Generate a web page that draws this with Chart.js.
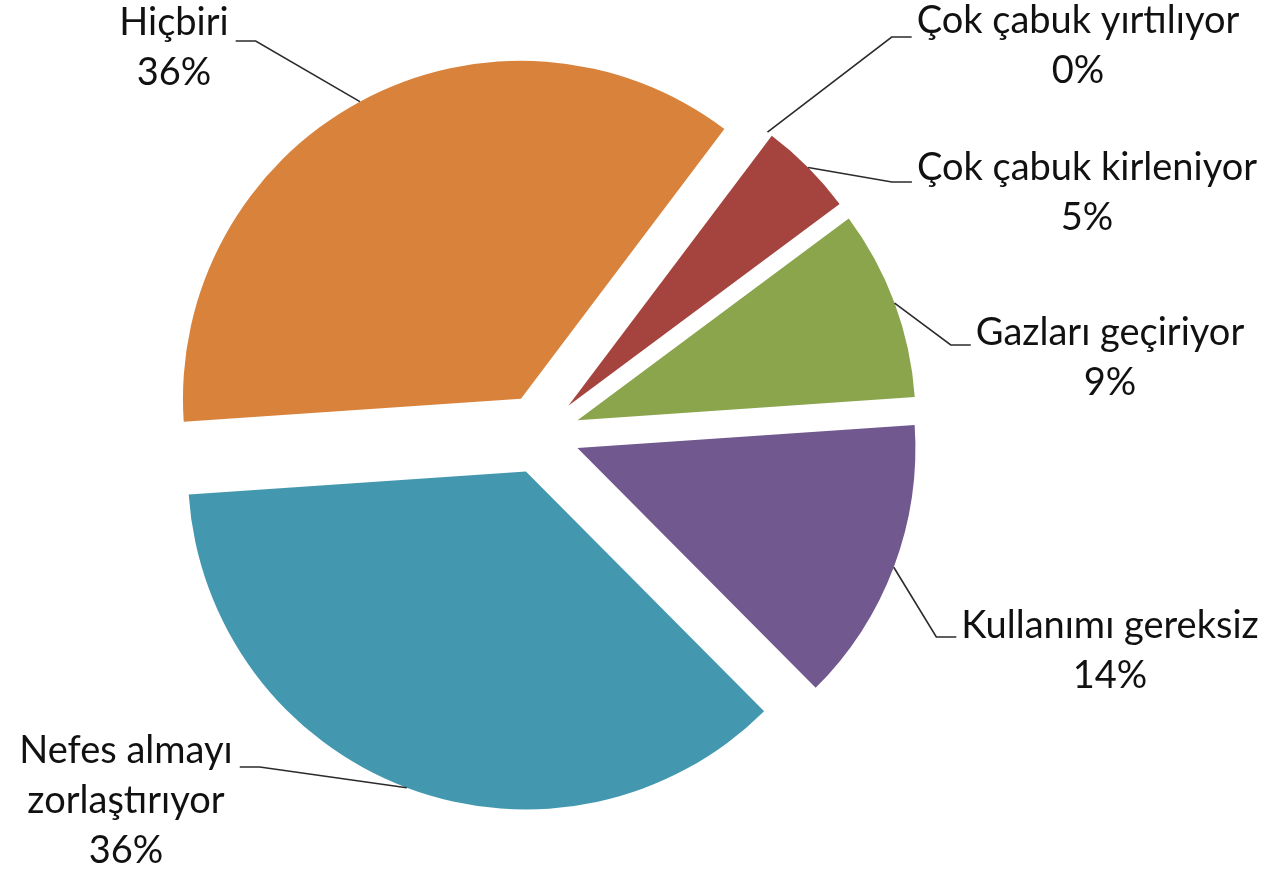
<!DOCTYPE html>
<html>
<head>
<meta charset="utf-8">
<script src="https://cdn.jsdelivr.net/npm/chart.js@4.4.1/dist/chart.umd.min.js"></script>
<style>
  html, body { margin: 0; padding: 0; background: #fff; }
  #wrap { width: 1274px; height: 874px; position: relative; }
</style>
</head>
<body>
<div id="wrap"><canvas id="pieChart"></canvas></div>
<script>
// ── Data ──
const CATEGORIES = [
    "Çok çabuk yırtılıyor",
    "Çok çabuk kirleniyor",
    "Gazları geçiriyor",
    "Kullanımı gereksiz",
    "Nefes almayı zorlaştırıyor",
    "Hiçbiri",
];
// answer counts (slice angles: 0 / 1 / 2 / 3 / 8 / 8 of 22)
const VALUES = [0, 1, 2, 3, 8, 8];

// label text, wrapped the way the original shows it
const LABEL_LINES = [
    ["Çok çabuk yırtılıyor"],
    ["Çok çabuk kirleniyor"],
    ["Gazları geçiriyor"],
    ["Kullanımı gereksiz"],
    ["Nefes almayı", "zorlaştırıyor"],
    ["Hiçbiri"],
];

// ── Styles ──
const COLORS = ["#4F81BD", "#A5443F", "#8AA54C", "#71598F", "#4398AF", "#D9823C"];
const EXPLODE = 40;          // px each slice is pulled out
const FONT = '38px Lato, "Noto Sans", sans-serif';
const LINE_H = 50;

// label placement: centre x of the text block, first baseline, leader side
const LABEL_POS = [
    { x: 1078, y: 33,  lineY: 37,  side: "right" },
    { x: 1087, y: 180, lineY: 182, side: "right" },
    { x: 1110, y: 345, lineY: 345, side: "right" },
    { x: 1110, y: 638, lineY: 637, side: "right" },
    { x: 126,  y: 763, lineY: 767, side: "left"  },
    { x: 174,  y: 35,  lineY: 41,  side: "left"  },
];

// ── Plugins ──
// draws every arc shifted along its bisector (Excel style explosion)
const explodedPie = {
    id: "explodedPie",
    beforeDatasetDraw(chart, args) {
        const ctx = chart.ctx;
        args.meta.data.forEach(arc => {
            const mid = (arc.startAngle + arc.endAngle) / 2;
            ctx.save();
            ctx.translate(Math.cos(mid) * EXPLODE, Math.sin(mid) * EXPLODE);
            arc.draw(ctx);
            ctx.restore();
        });
        return false;
    },
};

// outside labels with leader lines
const leaderLabels = {
    id: "leaderLabels",
    afterDraw(chart) {
        const ctx = chart.ctx;
        const meta = chart.getDatasetMeta(0);
        const total = VALUES.reduce((a, b) => a + b, 0);
        ctx.save();
        ctx.font = FONT;
        ctx.textAlign = "center";
        ctx.textBaseline = "alphabetic";
        meta.data.forEach((arc, i) => {
            const pos = LABEL_POS[i];
            const pct = Math.round(VALUES[i] / total * 100) + "%";
            const lines = [...LABEL_LINES[i], pct];
            const mid = (arc.startAngle + arc.endAngle) / 2;
            const r = arc.outerRadius + EXPLODE;
            const ax = arc.x + Math.cos(mid) * r;
            const ay = arc.y + Math.sin(mid) * r;

            const w = ctx.measureText(lines[0]).width;
            let endX, elbowX;
            if (pos.side === "right") {
                endX = pos.x - w / 2 - 5;
                elbowX = endX - 20;
            } else {
                endX = pos.x + w / 2 + 7;
                elbowX = endX + 20;
            }
            ctx.strokeStyle = "#2b2b2b";
            ctx.lineWidth = 1.6;
            ctx.beginPath();
            ctx.moveTo(ax, ay);
            ctx.lineTo(elbowX, pos.lineY);
            ctx.lineTo(endX, pos.lineY);
            ctx.stroke();

            ctx.fillStyle = "#111";
            lines.forEach((t, k) => ctx.fillText(t, pos.x, pos.y + k * LINE_H));
        });
        ctx.restore();
    },
};

new Chart(document.getElementById("pieChart"), {
    type: "pie",
    data: {
        labels: CATEGORIES,
        datasets: [{
            data: VALUES,
            backgroundColor: COLORS,
            borderWidth: 0,
            hoverOffset: 0,
        }],
    },
    options: {
        responsive: true,
        maintainAspectRatio: false,
        animation: false,
        events: [],
        rotation: 37,
        radius: 338,
        layout: { padding: { left: 0, right: 194, top: 0, bottom: 6 } },
        plugins: {
            legend: { display: false },
            tooltip: { enabled: false },
        },
    },
    plugins: [explodedPie, leaderLabels],
});
</script>
</body>
</html>
